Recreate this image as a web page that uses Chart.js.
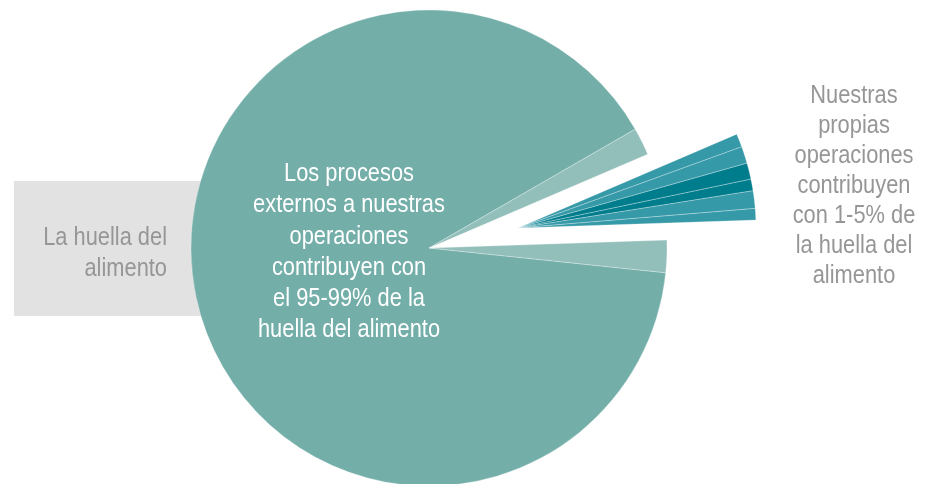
<!DOCTYPE html>
<html>
<head>
<meta charset="utf-8">
<title>La huella del alimento</title>
<script src="https://cdn.jsdelivr.net/npm/chart.js@4.4.1/dist/chart.umd.min.js"></script>
<style>
	body { margin: 0; background: #fff; }
	#wrap { position: relative; width: 934px; height: 484px; overflow: hidden; }
	#wrap canvas { position: absolute; left: 0; top: 0; z-index: 1; }
	#box { position: absolute; left: 14px; top: 181px; width: 246px; height: 135px; background: #e2e2e2; z-index: 0; }
	.txt { position: absolute; z-index: 2; font-family: "Liberation Sans", Arial, sans-serif; font-size: 26px; white-space: nowrap; transform: scaleX(0.84); }
	#txtLeft { left: 0; top: 221px; width: 167px; text-align: right; line-height: 31.3px; color: #969696; transform-origin: 167px 0; }
	#txtCenter { left: 199px; top: 157px; width: 300px; text-align: center; line-height: 31.3px; color: #fff; transform-origin: 150px 0; }
	#txtRight { left: 754px; top: 79px; width: 200px; text-align: center; line-height: 30px; color: #969696; transform-origin: 100px 0; }
</style>
</head>
<body>
<div id="wrap">
	<div id="box"></div>
	<canvas id="pieBase" width="934" height="484"></canvas>
	<canvas id="pieOwn" width="934" height="484"></canvas>
	<div id="txtLeft" class="txt">La huella del<br>alimento</div>
	<div id="txtCenter" class="txt">Los procesos<br>externos a nuestras<br>operaciones<br>contribuyen con<br>el 95-99% de la<br>huella del alimento</div>
	<div id="txtRight" class="txt">Nuestras<br>propias<br>operaciones<br>contribuyen<br>con 1-5% de<br>la huella del<br>alimento</div>
</div>
<script>
// porciones en el sentido del reloj, empezando abajo a la derecha
var sliceLabels = ['Procesos externos', 'Externos (borde)', 'Operaciones 1', 'Operaciones 2', 'Operaciones 3', 'Operaciones 4', 'Operaciones 5', 'Operaciones 6', 'Externos (borde)'];
var sliceValues = [90.02, 1.87, 0.91, 1.15, 1.10, 0.79, 1.19, 0.78, 2.19];
var sliceGroups = ['ext', 'extLight', 'ownMid', 'ownMid', 'ownDark', 'ownDark', 'ownMid', 'ownMid', 'extLight'];

var groupColors = {
	ext: '#73aea9',
	extLight: '#93bfba',
	ownMid: '#3699a8',
	ownDark: '#007d8d'
};

function _isOwn(group) {
	return group.indexOf('own') === 0;
}

function _setDataset(ownPart) {
	var colors = new Array();
	var borders = new Array();
	var widths = new Array();

	sliceGroups.forEach(function(group) {
		var show = (_isOwn(group) === ownPart);
		colors.push(show ? groupColors[group] : 'rgba(0,0,0,0)');
		borders.push('rgba(255,255,255,0.35)');
		widths.push(show ? 0.8 : 0);
	});

	return {
		data: sliceValues,
		backgroundColor: colors,
		borderColor: borders,
		borderWidth: widths,
		hoverOffset: 0,
		clip: false
	};
}

function createChart(id, ownPart, padding) {
	var ctx = document.getElementById(id);
	return new Chart(ctx, {
		type: 'pie',
		data: {
			labels: sliceLabels,
			datasets: [_setDataset(ownPart)]
		},
		options: {
			responsive: false,
			animation: false,
			events: [],
			rotation: 95.97,
			radius: 238,
			layout: { padding: padding },
			plugins: {
				legend: { display: false },
				tooltip: { enabled: false }
			}
		}
	});
}

// el pastel completo, centro en (429, 248)
createChart('pieBase', false, { left: 0, right: 76, top: 12, bottom: 0 });
// la porcion separada, desplazada a (518, 228)
createChart('pieOwn', true, { left: 102, right: 0, top: 0, bottom: 28 });
</script>
</body>
</html>
